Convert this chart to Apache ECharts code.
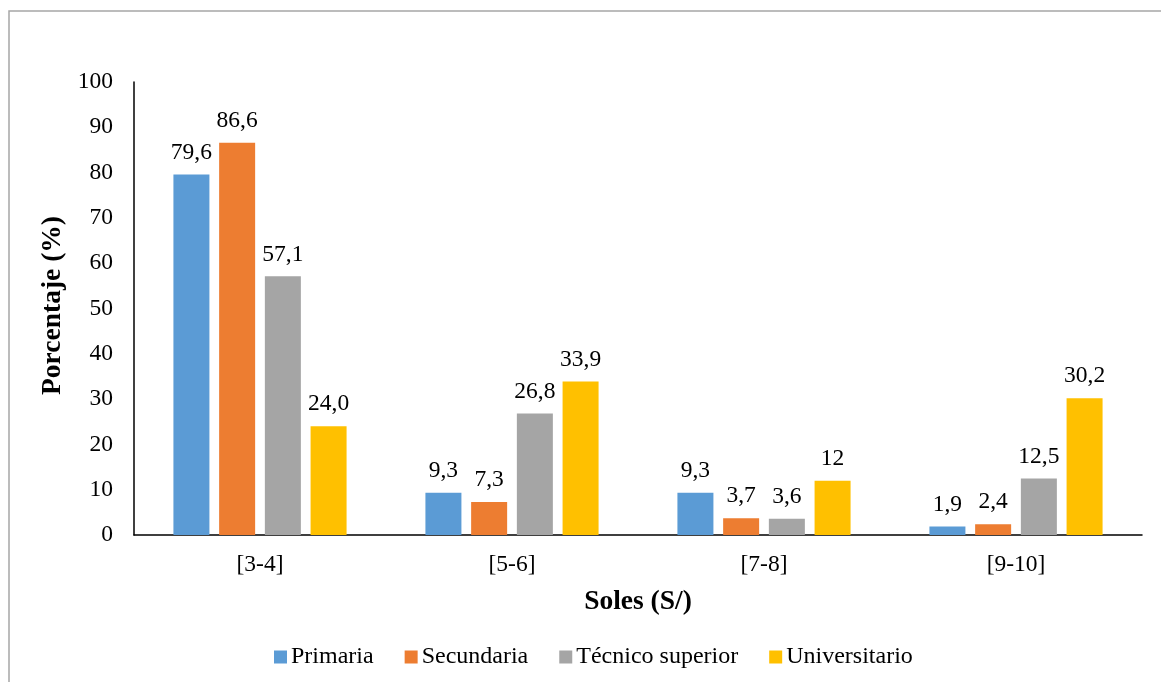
<!DOCTYPE html>
<html>
<head>
<meta charset="utf-8">
<style>
  html, body { margin: 0; padding: 0; background: #fff; }
  #chart { width: 1161px; height: 682px; }
</style>
<script src="https://cdn.jsdelivr.net/npm/echarts@6/dist/echarts.min.js"></script>
</head>
<body>
<div id="chart"></div>
<script>
// Income ranges (Soles) on the category axis
const categories = ['[3-4]', '[5-6]', '[7-8]', '[9-10]'];

// Percentage per education level
const primaria = [79.6, 9.3, 9.3, 1.9];
const secundaria = [86.6, 7.3, 3.7, 2.4];
const tecnico = [57.1, 26.8, 3.6, 12.5];
const universitario = [24.0, 33.9, 12, 30.2];

// Value labels as printed above each bar
const primariaLabels = ['79,6', '9,3', '9,3', '1,9'];
const secundariaLabels = ['86,6', '7,3', '3,7', '2,4'];
const tecnicoLabels = ['57,1', '26,8', '3,6', '12,5'];
const universitarioLabels = ['24,0', '33,9', '12', '30,2'];

const seriesNames = ['Primaria', 'Secundaria', 'Técnico superior', 'Universitario'];
const colors = ['#5B9BD5', '#ED7D31', '#A5A5A5', '#FFC000'];

const FONT = '"Liberation Serif", "Times New Roman", serif';

function makeSeries(name, values, labels, color) {
  return {
    name: name,
    type: 'bar',
    data: values,
    barWidth: 36,
    barGap: '27%',
    itemStyle: { color: color },
    label: {
      show: true,
      position: 'top',
      distance: 10,
      fontFamily: FONT,
      fontSize: 23.5,
      color: '#000',
      formatter: function (p) { return labels[p.dataIndex]; }
    }
  };
}

const chart = echarts.init(document.getElementById('chart'));
chart.setOption({
  animation: false,
  backgroundColor: '#fff',
  textStyle: { fontFamily: FONT },
  graphic: [{
    type: 'rect',
    shape: { x: 9, y: 11, width: 1170, height: 690 },
    style: { fill: 'none', stroke: '#A6A6A6', lineWidth: 1.5 },
    silent: true
  }],
  grid: { left: 134, right: 19, top: 82, bottom: 147 },
  legend: {
    data: seriesNames,
    top: 640,
    left: 269,
    icon: 'rect',
    itemWidth: 13,
    itemHeight: 13,
    itemGap: 31,
    textStyle: { fontFamily: FONT, fontSize: 24, color: '#000', padding: [0, 0, 0, -1] }
  },
  xAxis: {
    type: 'category',
    data: categories,
    name: 'Soles (S/)',
    nameLocation: 'middle',
    nameGap: 53,
    nameTextStyle: { fontFamily: FONT, fontSize: 27.5, fontWeight: 'bold', color: '#000' },
    axisLine: { lineStyle: { color: '#000', width: 1.5 } },
    axisTick: { show: false },
    axisLabel: { fontFamily: FONT, fontSize: 23.5, color: '#000', margin: 18 }
  },
  yAxis: {
    type: 'value',
    min: 0,
    max: 100,
    interval: 10,
    name: 'Porcentaje (%)',
    nameLocation: 'middle',
    nameGap: 60,
    nameTextStyle: { fontFamily: FONT, fontSize: 27.5, fontWeight: 'bold', color: '#000', padding: [0, 0, 0, 6] },
    axisLine: { show: true, lineStyle: { color: '#000', width: 1.5 } },
    axisTick: { show: false },
    splitLine: { show: false },
    axisLabel: { fontFamily: FONT, fontSize: 23.5, color: '#000', margin: 21 }
  },
  series: [
    makeSeries(seriesNames[0], primaria, primariaLabels, colors[0]),
    makeSeries(seriesNames[1], secundaria, secundariaLabels, colors[1]),
    makeSeries(seriesNames[2], tecnico, tecnicoLabels, colors[2]),
    makeSeries(seriesNames[3], universitario, universitarioLabels, colors[3])
  ]
});
</script>
</body>
</html>
